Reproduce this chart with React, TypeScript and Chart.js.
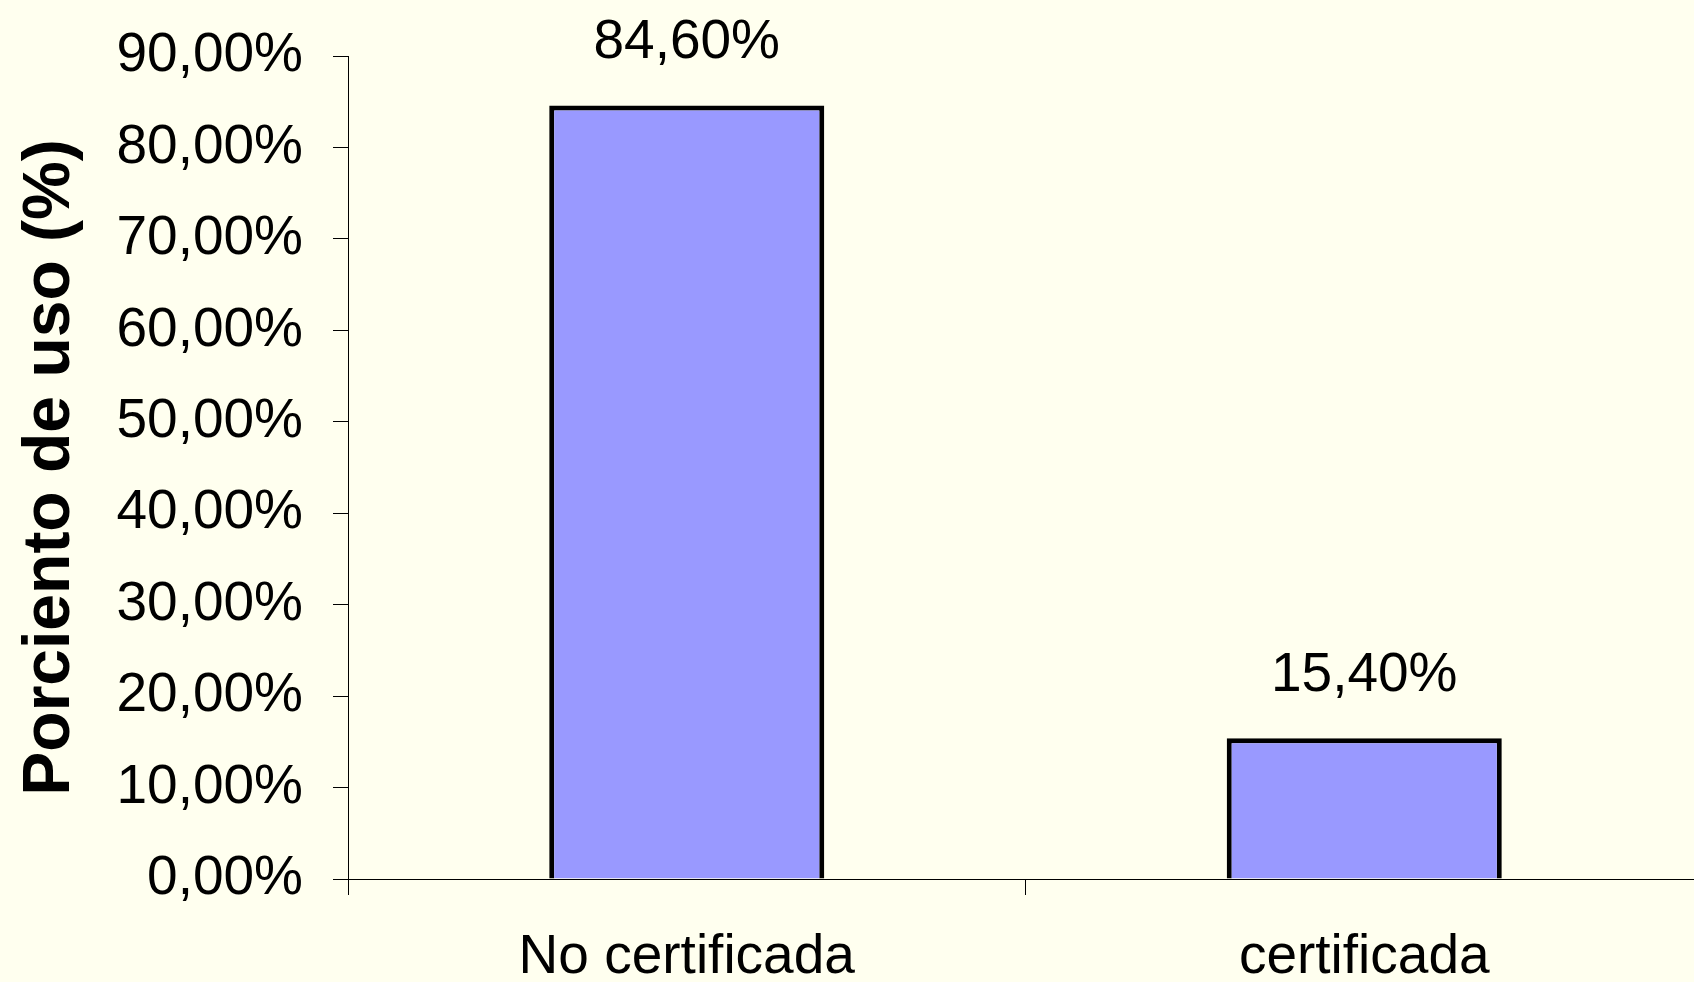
import React, { useEffect, useRef } from "react";
import { Chart, registerables } from "chart.js";

Chart.register(...registerables);

const categories: string[] = ["No certificada", "certificada"];
const usagePercent: number[] = [84.6, 15.4];
const yTickValues: number[] = [0, 10, 20, 30, 40, 50, 60, 70, 80, 90];
const yAxisTitle = "Porciento de uso (%)";

const FONT = "'Liberation Sans', Arial, sans-serif";
const BG = "#FFFFEF";

const fmt = (v: number) => v.toFixed(2).replace(".", ",") + "%";

const valueLabels = {
  id: "valueLabels",
  afterDatasetsDraw(chart: any) {
    const ctx = chart.ctx;
    const meta = chart.getDatasetMeta(0);
    ctx.save();
    ctx.font = `55px ${FONT}`;
    ctx.fillStyle = "#000";
    ctx.textAlign = "center";
    ctx.textBaseline = "alphabetic";
    meta.data.forEach((bar: any, i: number) => {
      ctx.fillText(fmt(usagePercent[i]), bar.x, bar.y - 47);
    });
    ctx.restore();
  },
};

export default function App() {
  const ref = useRef<HTMLCanvasElement | null>(null);

  useEffect(() => {
    if (!ref.current) return;
    const chart = new Chart(ref.current, {
      type: "bar",
      data: {
        labels: categories,
        datasets: [
          {
            data: usagePercent,
            backgroundColor: "#9999FF",
            borderColor: "#000000",
            borderWidth: 5,
            categoryPercentage: 1,
            barPercentage: 0.406,
          },
        ],
      },
      options: {
        responsive: false,
        animation: false,
        layout: { padding: { top: 56, right: 7, left: 0, bottom: 0 } },
        plugins: {
          legend: { display: false },
          tooltip: { enabled: false },
        },
        scales: {
          x: {
            grid: {
              offset: true,
              drawOnChartArea: false,
              drawTicks: true,
              tickLength: 16,
              color: "#000",
              lineWidth: 1,
            },
            border: { color: "#000", width: 1 },
            ticks: {
              color: "#000",
              font: { family: FONT, size: 55 },
              padding: 30,
              maxRotation: 0,
            },
            afterFit: (s: any) => {
              s.height = 103;
              s.paddingLeft = 0;
              s.paddingRight = 0;
            },
          },
          y: {
            min: yTickValues[0],
            max: yTickValues[yTickValues.length - 1],
            afterBuildTicks: (s: any) => {
              s.ticks = yTickValues.map((v) => ({ value: v }));
            },
            grid: {
              drawOnChartArea: false,
              drawTicks: true,
              tickLength: 15,
              color: "#000",
              lineWidth: 1,
            },
            border: { color: "#000", width: 1 },
            ticks: {
              color: "#000",
              font: { family: FONT, size: 55 },
              padding: 30,
              callback: (v: any) => fmt(Number(v)),
            },
            title: {
              display: true,
              text: yAxisTitle,
              color: "#000",
              font: { family: FONT, size: 66, weight: "bold" },
              padding: { top: 11, bottom: 0 },
            },
            afterFit: (s: any) => {
              s.width = 348;
              s.paddingTop = 0;
              s.paddingBottom = 0;
            },
          },
        },
      },
      plugins: [valueLabels],
    });
    return () => chart.destroy();
  }, []);

  return (
    <div
      style={{
        position: "fixed",
        left: 0,
        top: 0,
        width: 1694,
        height: 982,
        overflow: "hidden",
        background: BG,
      }}
    >
      <canvas ref={ref} width={1710} height={982} style={{ display: "block" }} />
    </div>
  );
}
